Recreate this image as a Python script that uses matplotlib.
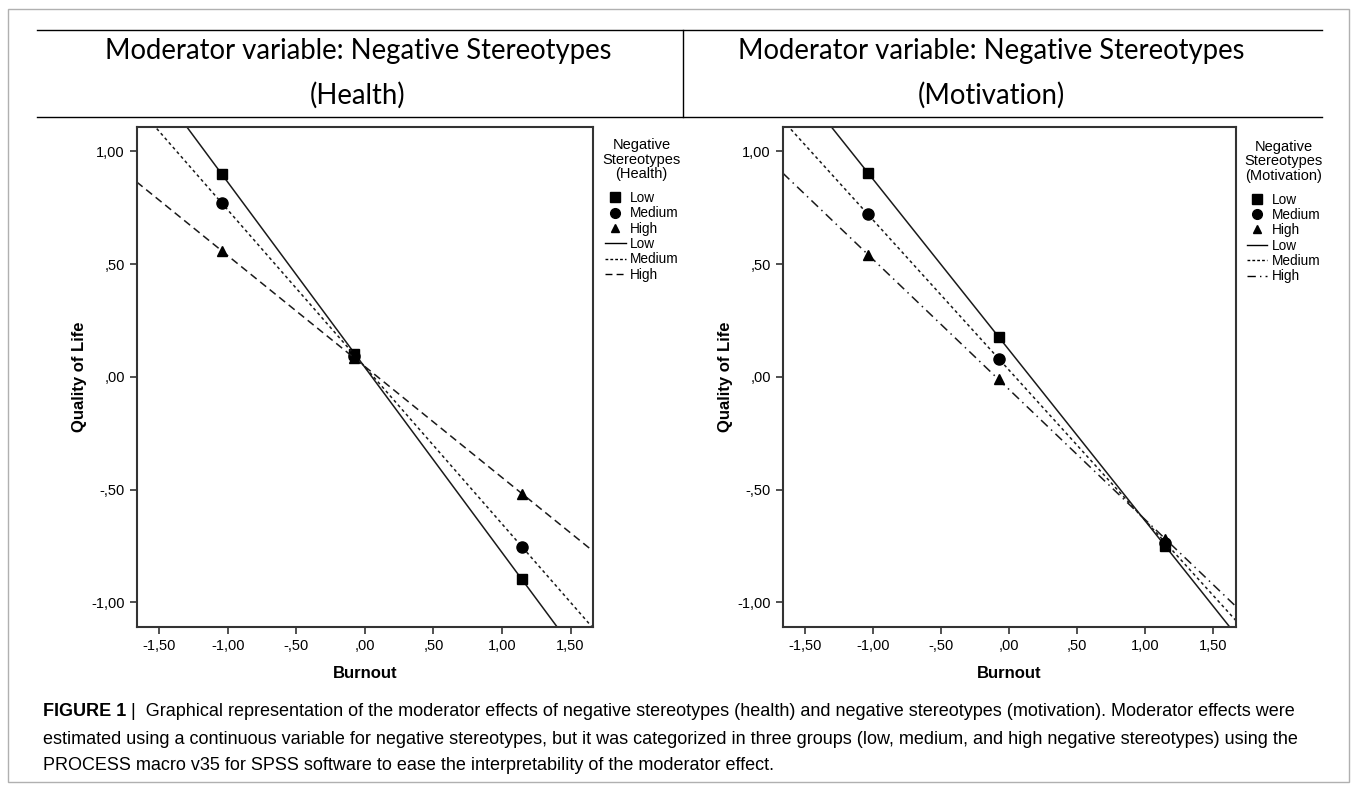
import matplotlib.pyplot as plt
import numpy as np
from matplotlib.lines import Line2D
from matplotlib.patches import Rectangle

# puntos estimados de la figura
burnout = np.array([-1.04, -0.077, 1.147])

health_low = np.array([0.898, 0.100, -0.897])
health_medium = np.array([0.770, 0.093, -0.752])
health_high = np.array([0.557, 0.083, -0.518])

motiv_low = np.array([0.906, 0.175, -0.750])
motiv_medium = np.array([0.721, 0.080, -0.735])
motiv_high = np.array([0.541, -0.009, -0.720])

grupos = ['Low', 'Medium', 'High']
xticks = [-1.5, -1.0, -0.5, 0.0, 0.5, 1.0, 1.5]
yticks = [-1.0, -0.5, 0.0, 0.5, 1.0]

plt.rcParams['font.family'] = ['Liberation Sans', 'DejaVu Sans']

W, H = 1357, 791
fig = plt.figure(figsize=(W / 100, H / 100), dpi=100)
fig.patch.set_facecolor('white')

def fmt(v):
    s = f"{v:.2f}".replace('.', ',')
    s = s.replace('-0,', '-,')
    if s.startswith('0,'):
        s = s[1:]
    return s

def panel(rect, series, estilos_alto, titulo_leyenda, pos_leyenda):
    ax = fig.add_axes(rect)
    xmin, xmax = -1.666, 1.666
    xs = np.array([xmin, xmax])
    estilos = [('-', 's', 7.5), ((0, (2, 2)), 'o', 8), (estilos_alto, '^', 6.5)]
    for ys, (ls, mk, ms) in zip(series, estilos):
        c = np.polyfit(burnout, ys, 1)
        ax.plot(xs, np.polyval(c, xs), color='#1a1a1a', lw=1.1, ls=ls)
        ax.plot(burnout, ys, ls='none', marker=mk, ms=ms, color='black')
    ax.set_xlim(xmin, xmax)
    ax.set_ylim(-1.11, 1.11)
    ax.set_xticks(xticks)
    ax.set_yticks(yticks)
    ax.set_xticklabels([fmt(v) for v in xticks])
    ax.set_yticklabels([fmt(v) for v in yticks])
    ax.tick_params(direction='out', length=5, width=1.2, labelsize=10.5, color='#333333')
    for sp in ax.spines.values():
        sp.set_linewidth(1.5)
        sp.set_color('#333333')
    ax.set_xlabel('Burnout', fontsize=12, fontweight='bold', labelpad=9)
    ax.set_ylabel('Quality of Life', fontsize=12, fontweight='bold', labelpad=3)

    handles = [Line2D([], [], ls='none', marker='s', ms=6.5, color='black'),
               Line2D([], [], ls='none', marker='o', ms=7, color='black'),
               Line2D([], [], ls='none', marker='^', ms=6, color='black'),
               Line2D([], [], ls='-', lw=1, color='black'),
               Line2D([], [], ls=(0, (2, 1.5)), lw=1, color='black'),
               Line2D([], [], ls=estilos_alto, lw=1, color='black')]
    leg = fig.legend(handles, grupos + grupos, title=titulo_leyenda, loc='upper left',
                     bbox_to_anchor=pos_leyenda, frameon=False, fontsize=9.8,
                     title_fontsize=10.5, handlelength=1.5, handletextpad=0.3,
                     labelspacing=0.1, borderpad=0)
    leg.get_title().set_multialignment('center')
    leg.get_title().set_linespacing(1.05)
    leg._legend_box.sep = 7
    return ax

panel([0.1007, 0.207, 0.3365, 0.633],
      [health_low, health_medium, health_high], (0, (5, 3)),
      'Negative\nStereotypes\n(Health)', (0.439, 0.834))
panel([0.5768, 0.207, 0.334, 0.633],
      [motiv_low, motiv_medium, motiv_high], (0, (6, 3, 1, 3)),
      'Negative\nStereotypes\n(Motivation)', (0.912, 0.832))

# cabecera tipo tabla
fig.add_artist(Line2D([37 / W, 1322 / W], [1 - 30 / H] * 2, color='black', lw=1))
fig.add_artist(Line2D([37 / W, 1322 / W], [1 - 117 / H] * 2, color='black', lw=1))
fig.add_artist(Line2D([683 / W] * 2, [1 - 30 / H, 1 - 117 / H], color='black', lw=1))
for cx, sub in [(358, '(Health)'), (991, '(Motivation)')]:
    fig.text(cx / W, 1 - 51 / H, 'Moderator variable: Negative Stereotypes',
             ha='center', va='center', fontsize=19.8, family='Lato')
    fig.text(cx / W, 1 - 95 / H, sub, ha='center', va='center', fontsize=19.8, family='Lato')

# marco exterior
fig.add_artist(Rectangle((8 / W, 1 - 782 / H), 1341 / W, 773 / H, fill=False,
                         edgecolor='#b0b0b0', lw=1, transform=fig.transFigure))

# pie de figura
fam = ['Liberation Sans', 'DejaVu Sans']
fs = 13
t = fig.text(43 / W, 1 - 712 / H, 'FIGURE 1', fontsize=fs, fontweight='bold',
             family=fam, va='center')
fig.canvas.draw()
bb = t.get_window_extent()
x2 = bb.x1 / W
fig.text(x2, 1 - 712 / H,
         ' |  Graphical representation of the moderator effects of negative stereotypes (health) and negative stereotypes (motivation). Moderator effects were',
         fontsize=fs, family=fam, va='center')
fig.text(43 / W, 1 - 739 / H,
         'estimated using a continuous variable for negative stereotypes, but it was categorized in three groups (low, medium, and high negative stereotypes) using the',
         fontsize=fs, family=fam, va='center')
fig.text(43 / W, 1 - 765 / H,
         'PROCESS macro v35 for SPSS software to ease the interpretability of the moderator effect.',
         fontsize=fs, family=fam, va='center')

fig.savefig('out.png', dpi=100)
